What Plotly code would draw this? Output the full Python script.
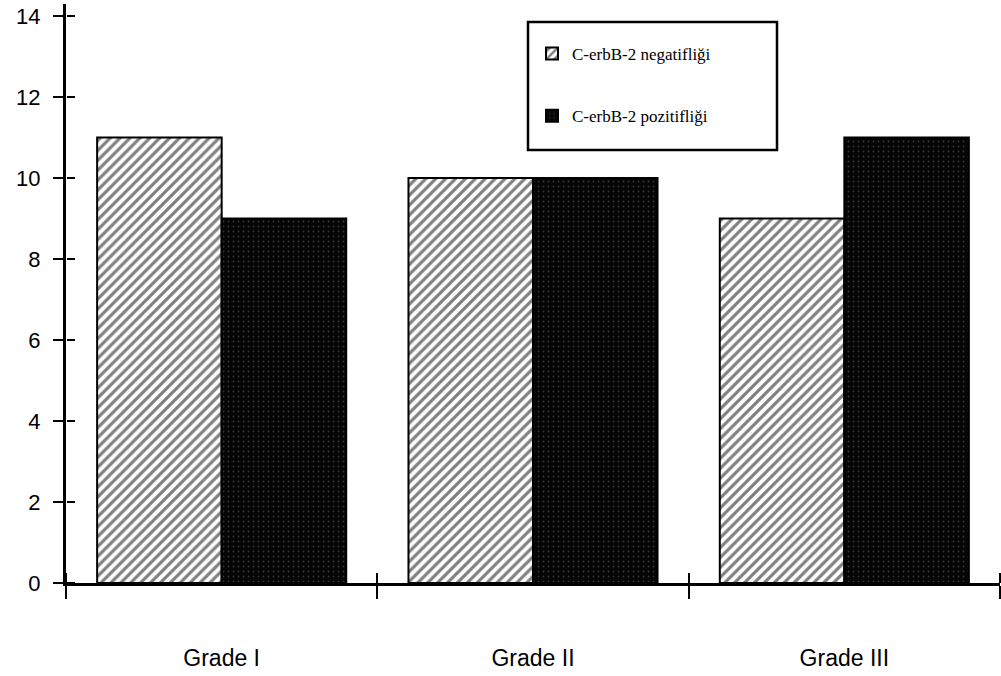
import plotly.graph_objects as go

categories = ["Grade I", "Grade II", "Grade III"]
negatif = [11, 10, 9]
pozitif = [9, 10, 11]
series_names = ["C-erbB-2 negatifliği", "C-erbB-2 pozitifliği"]
y_ticks = [0, 2, 4, 6, 8, 10, 12, 14]

Y_MAX = 14.3
L, R, T, B = 66, 1, 4, 93
W, H = 1001, 676
PW, PH = W - L - R, H - T - B

fig = go.Figure()
fig.add_trace(go.Bar(
    x=categories, y=negatif, name=series_names[0], legendgroup="a",
    marker=dict(color="white", line=dict(color="black", width=2),
                pattern=dict(shape="/", fgcolor="black", bgcolor="white",
                             size=7, solidity=0.45)),
))
fig.add_trace(go.Bar(
    x=categories, y=pozitif, name=series_names[1], legendgroup="b",
    marker=dict(color="#050505", line=dict(color="black", width=2),
                pattern=dict(shape=".", fgcolor="#6a6a6a", bgcolor="#050505",
                             size=5, solidity=0.1)),
))

# invisible trace on overlay axes so that crossing (inner) ticks are drawn
fig.add_trace(go.Scatter(x=categories, y=negatif, xaxis="x2", yaxis="y2",
                         mode="markers", marker=dict(opacity=0),
                         showlegend=False, hoverinfo="skip"))

# legend frame
lx0, lx1, ly0, ly1 = 528, 777, 22, 150
fig.add_shape(type="rect", xref="paper", yref="paper",
              x0=(lx0 - L) / PW, x1=(lx1 - L) / PW,
              y0=1 - (ly1 - T) / PH, y1=1 - (ly0 - T) / PH,
              line=dict(color="black", width=2.5), fillcolor="white", layer="below")

fig.update_layout(
    width=W, height=H,
    margin=dict(l=L, r=R, t=T, b=B),
    paper_bgcolor="white", plot_bgcolor="rgba(0,0,0,0)",
    barmode="group", bargap=0.2, bargroupgap=0,
    font=dict(family="Liberation Sans, Arial, sans-serif", color="black"),
    xaxis=dict(type="category", tickson="boundaries", ticks="outside",
               ticklen=13, tickwidth=2, tickcolor="black",
               showline=True, linecolor="black", linewidth=3,
               showgrid=False, zeroline=False,
               tickfont=dict(size=23, family="Liberation Sans, Arial"),
               ticklabelstandoff=52, range=[-0.5, 2.5]),
    yaxis=dict(range=[0, Y_MAX], tickvals=y_ticks, ticks="outside",
               ticklen=10, tickwidth=2, tickcolor="black",
               showline=True, linecolor="black", linewidth=3,
               showgrid=False, zeroline=False,
               tickfont=dict(size=22, family="Liberation Sans, Arial"),
               ticklabelstandoff=8),
    xaxis2=dict(type="category", overlaying="x", tickson="boundaries",
                side="top", anchor="free", position=0,
                ticks="outside", ticklen=10, tickwidth=2, tickcolor="black",
                showticklabels=False, showgrid=False, zeroline=False,
                showline=False, range=[-0.5, 2.5]),
    yaxis2=dict(overlaying="y", range=[0, Y_MAX], tickvals=y_ticks,
                side="right", anchor="free", position=0,
                ticks="outside", ticklen=8, tickwidth=2, tickcolor="black",
                showticklabels=False, showgrid=False, zeroline=False,
                showline=False),
    legend=dict(x=(lx0 - L + 4) / PW, y=1 - (ly0 - T + 14) / PH,
                xanchor="left", yanchor="top",
                bgcolor="rgba(0,0,0,0)", borderwidth=0,
                font=dict(family="Liberation Serif, Times New Roman, serif", size=17),
                tracegroupgap=37, itemwidth=30, traceorder="grouped"),
    showlegend=True,
)

fig.write_html("out.html")
